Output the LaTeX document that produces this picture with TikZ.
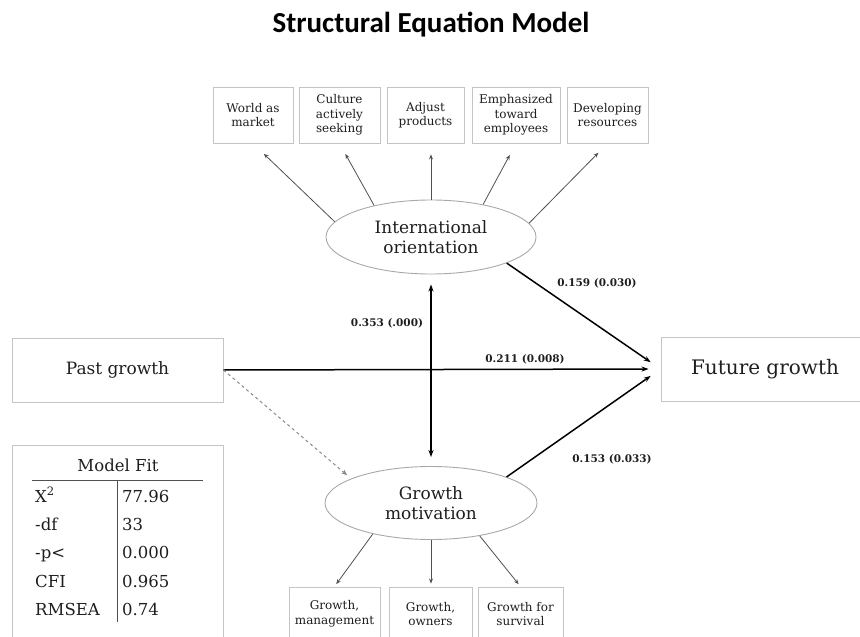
\documentclass[tikz,border=0pt]{standalone}
\usepackage{fontspec}
\setmainfont{DejaVu Serif}
\newfontfamily\titlefont{Carlito}
\usetikzlibrary{arrows.meta,shapes.geometric,calc}
\definecolor{boxgray}{HTML}{C4C4C4}
\definecolor{ellgray}{HTML}{A8A8A8}
\definecolor{linegray}{HTML}{505050}
\definecolor{dashgray}{HTML}{8A8A8A}
\definecolor{txt}{HTML}{1E1E1E}
\begin{document}
\begin{tikzpicture}[x=1pt,y=-1pt,
  every node/.style={text=txt},
  smallbox/.style={draw=boxgray, line width=0.9pt, align=center, inner sep=0pt,
    font=\fontsize{12}{14.5}\selectfont},
  bigbox/.style={draw=boxgray, line width=0.9pt, align=center, inner sep=0pt},
  latent/.style={ellipse, draw=ellgray, line width=0.9pt, align=center, inner sep=0pt,
    font=\fontsize{17}{20}\selectfont},
  thinarr/.style={-{Stealth[length=5pt,width=4pt]}, line width=0.8pt, draw=linegray},
  mainarr/.style={-{Stealth[length=7pt,width=5pt]}, line width=1.5pt, draw=black},
  dasharr/.style={-{Stealth[length=6pt,width=4.5pt]}, line width=1pt, draw=dashgray, dashed},
  coef/.style={font=\fontsize{10.5}{12}\selectfont\bfseries},
  fitcell/.style={anchor=base west, font=\fontsize{16.5}{19}\selectfont, inner sep=0pt}
]
\useasboundingbox (0,0) rectangle (860,637);
\clip (0,0) rectangle (860,637);

% title
\node[font=\titlefont\bfseries\fontsize{29}{34}\selectfont, text=black, anchor=base, inner sep=0pt] (title) at (431,32) {Structural Equation Model};

% top indicator boxes
\node[smallbox, minimum width=80pt, minimum height=56pt] (w1) at (253,115) {World as\\market};
\node[smallbox, minimum width=81pt, minimum height=56pt] (w2) at (339.5,115) {Culture\\actively\\seeking};
\node[smallbox, minimum width=77pt, minimum height=56pt] (w3) at (425.5,115) {Adjust\\products};
\node[smallbox, minimum width=88pt, minimum height=56pt] (w4) at (516,115) {Emphasized\\toward\\employees};
\node[smallbox, minimum width=81pt, minimum height=56pt] (w5) at (607.5,115) {Developing\\resources};

% latent variables
\node[latent, minimum width=210pt, minimum height=74pt] (io) at (431,237) {International\\orientation};
\node[latent, minimum width=212pt, minimum height=73pt] (gm) at (431,503) {Growth\\motivation};

% observed
\node[bigbox, minimum width=211pt, minimum height=64pt, font=\fontsize{17}{20}\selectfont] (pg) at (117.5,370) {Past growth};
\node[bigbox, minimum width=260pt, minimum height=64pt, font=\fontsize{20}{24}\selectfont] (fg) at (791,369) {Future growth\hspace*{52pt}};

% bottom indicator boxes
\node[smallbox, minimum width=91pt, minimum height=54pt] (b1) at (334.5,614) {Growth,\\management};
\node[smallbox, minimum width=83pt, minimum height=54pt] (b2) at (430.5,614) {Growth,\\owners};
\node[smallbox, minimum width=85pt, minimum height=54pt] (b3) at (520.5,614) {Growth for\\survival};

% model fit box
\node[bigbox, minimum width=211pt, minimum height=200pt] (mf) at (117.5,545) {};
\node[font=\fontsize{16.5}{19}\selectfont] (mft) at (118,465) {Model Fit};
\coordinate (hl) at (32,480);
\coordinate (hr) at (203,480);
\coordinate (vt) at (117,480);
\coordinate (vb) at (117,622);
\draw[linegray, line width=0.9pt] (hl) -- (hr);
\draw[linegray, line width=0.9pt] (vt) -- (vb);
\node[fitcell] (c1) at (35,502) {X\textsuperscript{2}};
\node[fitcell] (c2) at (35,530) {-df};
\node[fitcell] (c3) at (35,558) {-p<};
\node[fitcell] (c4) at (35,587) {CFI};
\node[fitcell] (c5) at (35,615) {RMSEA};
\node[fitcell] (d1) at (122,502) {77.96};
\node[fitcell] (d2) at (122,530) {33};
\node[fitcell] (d3) at (122,558) {0.000};
\node[fitcell] (d4) at (122,587) {0.965};
\node[fitcell] (d5) at (122,615) {0.74};

% top loadings
\draw[thinarr, shorten >=15pt] (io.171) -- (w1.south);
\draw[thinarr, shorten >=12pt] (io.151) -- (w2.south);
\draw[thinarr, shorten >=11pt] (io.90) -- (io.90 |- w3.south);
\draw[thinarr, shorten >=13pt] (io.32) -- (w4.south);
\draw[thinarr, shorten >=13pt] (io.8) -- (w5.south);

% bottom loadings
\draw[thinarr, shorten >=3pt] (gm.208) -- (b1.north);
\draw[thinarr, shorten >=3pt] (gm.270) -- (gm.270 |- b2.north);
\draw[thinarr, shorten >=3pt] (gm.326) -- (b3.north);

% structural paths
\draw[mainarr, shorten >=12pt] (pg.east) -- (fg.west);
\draw[mainarr, shorten >=12pt] (io.341) -- (fg.west);
\draw[mainarr, shorten >=12pt] (gm.19) -- (fg.west);
\draw[mainarr, {Stealth[length=7pt,width=5pt]}-{Stealth[length=7pt,width=5pt]}, shorten <=10pt, shorten >=9pt] (io.south) -- (gm.north);
\draw[dasharr, shorten >=5pt] (pg.east) -- (gm.163);

% coefficients
\node[coef] (k1) at (387,323) {0.353 (.000)};
\node[coef] (k2) at (525,359) {0.211 (0.008)};
\node[coef] (k3) at (597,283) {0.159 (0.030)};
\node[coef] (k4) at (612,459) {0.153 (0.033)};
\end{tikzpicture}
\end{document}
